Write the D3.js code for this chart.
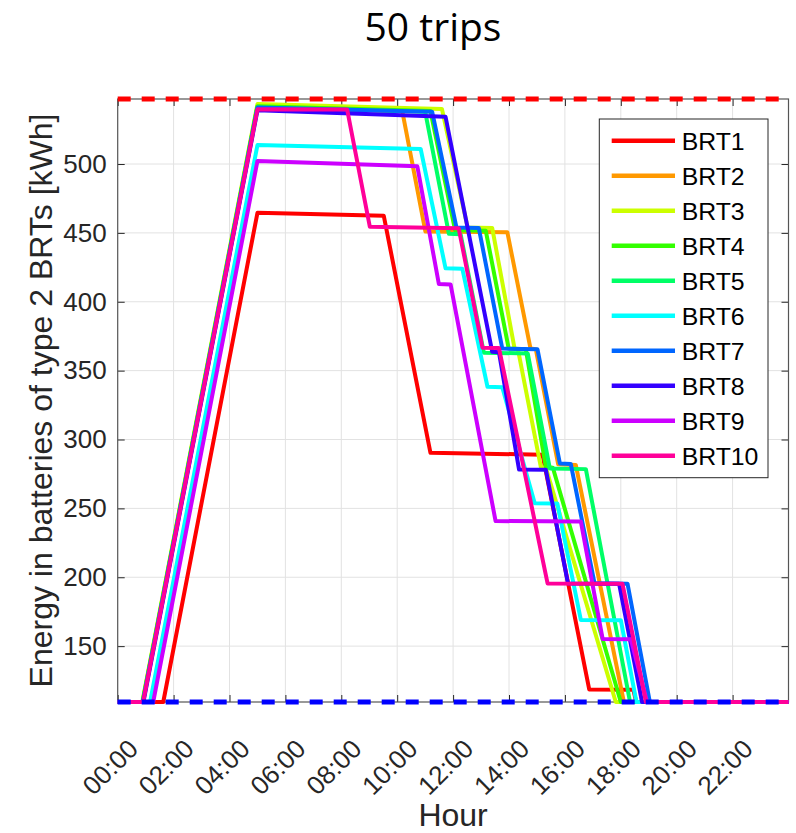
<!DOCTYPE html>
<html>
<head>
<meta charset="utf-8">
<script src="https://cdn.jsdelivr.net/npm/d3@7"></script>
<style>
  body { margin: 0; background: #ffffff; }
  svg { display: block; font-family: "Liberation Sans", Arial, sans-serif; }
</style>
</head>
<body>
<svg id="chart" width="796" height="833"></svg>
<script>
// ---------------- data ----------------
const titleText = "50 trips";
const seriesNames = ["BRT1","BRT2","BRT3","BRT4","BRT5","BRT6","BRT7","BRT8","BRT9","BRT10"];
const seriesColors = ["#ff0000","#ff9900","#ccff00","#33ff00","#00ff66","#00ffff","#0066ff","#3300ff","#cc00ff","#ff0099"];

const energyMin = 109.44;   // 20% of capacity (blue dashed)
const energyMax = 547.2;    // capacity (red dashed)

const BRT1_hours  = [0, 1.63, 5.0, 9.52, 11.19, 15.2, 16.87, 18.45, 18.55, 24];
const BRT1_kWh    = [109.44, 109.44, 464.6, 462.4, 290.3, 289.0, 118.6, 118.4, 109.44, 109.44];

const BRT2_hours  = [0, 0.89, 5.0, 10.18, 11.01, 13.94, 14.77, 14.96, 15.76, 16.39, 18.11, 24];
const BRT2_kWh    = [109.44, 109.44, 542.0, 538.5, 451.0, 450.5, 366.0, 365.5, 282.0, 281.5, 109.44, 109.44];

const BRT3_hours  = [0, 0.88, 5.0, 11.6, 12.52, 13.4, 14.2, 14.32, 15.14, 15.32, 17.82, 24];
const BRT3_kWh    = [109.44, 109.44, 543.5, 540.0, 454.0, 453.5, 366.0, 365.5, 280.0, 279.5, 109.44, 109.44];

const BRT4_hours  = [0, 0.89, 5.0, 11.19, 12.07, 13.17, 13.99, 14.6, 15.32, 15.57, 18.0, 24];
const BRT4_kWh    = [109.44, 109.44, 542.0, 538.5, 452.0, 451.5, 366.0, 365.5, 280.0, 279.5, 109.44, 109.44];

const BRT5_hours  = [0, 0.90, 5.0, 11.0, 11.85, 12.27, 13.1, 14.67, 15.46, 16.75, 18.33, 24];
const BRT5_kWh    = [109.44, 109.44, 541.0, 538.0, 449.3, 449.0, 363.0, 362.5, 279.0, 278.5, 109.44, 109.44];

const BRT6_hours  = [0, 1.16, 5.0, 10.84, 11.73, 12.33, 13.23, 13.76, 14.92, 15.73, 16.57, 18.0, 18.56, 24];
const BRT6_kWh    = [109.44, 109.44, 513.8, 510.9, 424.3, 424.0, 338.3, 338.0, 253.7, 253.5, 169.0, 168.8, 109.44, 109.44];

const BRT7_hours  = [0, 0.90, 5.0, 11.25, 12.12, 12.92, 13.76, 15.02, 15.82, 16.21, 17.06, 18.24, 19.04, 24];
const BRT7_kWh    = [109.44, 109.44, 541.0, 538.0, 454.0, 453.5, 366.0, 365.5, 282.6, 282.3, 195.6, 195.3, 109.44, 109.44];

const BRT8_hours  = [0, 0.92, 5.0, 11.73, 13.4, 13.64, 14.36, 15.32, 16.11, 17.94, 18.76, 24];
const BRT8_kWh    = [109.44, 109.44, 539.0, 534.3, 363.7, 363.4, 278.2, 278.0, 195.5, 195.2, 109.44, 109.44];

const BRT9_hours  = [0, 1.27, 5.0, 10.72, 11.49, 11.91, 13.52, 16.57, 17.35, 18.36, 18.94, 24];
const BRT9_kWh    = [109.44, 109.44, 502.2, 498.3, 412.9, 412.6, 240.8, 240.5, 155.2, 155.0, 109.44, 109.44];

const BRT10_hours = [0, 0.91, 5.0, 8.21, 9.02, 12.2, 13.05, 13.64, 15.38, 18.06, 18.9, 24];
const BRT10_kWh   = [109.44, 109.44, 539.7, 539.5, 454.5, 453.3, 366.7, 366.5, 195.5, 195.3, 109.44, 109.44];

const xTickHours  = [0, 2, 4, 6, 8, 10, 12, 14, 16, 18, 20, 22];
const xTickLabels = ["00:00","02:00","04:00","06:00","08:00","10:00","12:00","14:00","16:00","18:00","20:00","22:00"];
const yTickValues = [150, 200, 250, 300, 350, 400, 450, 500];
const xAxisTitle = "Hour";
const yAxisTitle = "Energy in batteries of type 2 BRTs [kWh]";

// ---------------- layout ----------------
const L = 117.7, R = 788.5, T = 99, B = 702;
const axisColor = "#262626";

const svg = d3.select("#chart");
const x = d3.scaleLinear().domain([0, 24]).range([L, R]);
const y = d3.scaleLinear().domain([energyMin, energyMax]).range([B, T]);

const hoursList = [BRT1_hours,BRT2_hours,BRT3_hours,BRT4_hours,BRT5_hours,BRT6_hours,BRT7_hours,BRT8_hours,BRT9_hours,BRT10_hours];
const kWhList   = [BRT1_kWh,BRT2_kWh,BRT3_kWh,BRT4_kWh,BRT5_kWh,BRT6_kWh,BRT7_kWh,BRT8_kWh,BRT9_kWh,BRT10_kWh];
const series = seriesNames.map((name, i) => ({ name, color: seriesColors[i], pts: d3.zip(hoursList[i], kWhList[i]) }));

// title
svg.append("text")
  .attr("x", 433).attr("y", 41)
  .attr("text-anchor", "middle")
  .style("font-family", "'Open Sans', 'Noto Sans', sans-serif")
  .style("font-size", "39px")
  .attr("fill", "#000")
  .text(titleText);

// background
svg.append("rect").attr("x", L).attr("y", T).attr("width", R - L).attr("height", B - T).attr("fill", "#fff");

// grid
const grid = svg.append("g").attr("stroke", "#e2e2e2").attr("stroke-width", 1);
grid.selectAll("line.gx").data(xTickHours.filter(d => d > 0)).join("line")
  .attr("x1", d => x(d)).attr("x2", d => x(d)).attr("y1", T).attr("y2", B);
grid.selectAll("line.gy").data(yTickValues).join("line")
  .attr("x1", L).attr("x2", R).attr("y1", d => y(d)).attr("y2", d => y(d));

// axes
const tickLen = 7;
const fmtX = (d) => xTickLabels[xTickHours.indexOf(d)];

const gx = svg.append("g").attr("transform", `translate(0,${B})`)
  .call(d3.axisBottom(x).tickValues(xTickHours).tickSize(-tickLen).tickFormat(fmtX));
gx.selectAll("text")
  .attr("x", 0).attr("y", 0).attr("dy", "0.35em")
  .attr("text-anchor", "end")
  .attr("transform", "translate(15,42) rotate(-45)");

const gxTop = svg.append("g").attr("transform", `translate(0,${T})`)
  .call(d3.axisTop(x).tickValues(xTickHours).tickSize(-tickLen).tickFormat(""));

const gy = svg.append("g").attr("transform", `translate(${L},0)`)
  .call(d3.axisLeft(y).tickValues(yTickValues).tickSize(-tickLen).tickPadding(11));

const gyRight = svg.append("g").attr("transform", `translate(${R},0)`)
  .call(d3.axisRight(y).tickValues(yTickValues).tickSize(-tickLen).tickFormat(""));

[gx, gxTop, gy, gyRight].forEach(g => {
  g.select(".domain").remove();
  g.selectAll(".tick line").attr("stroke", axisColor).attr("stroke-width", 1);
  g.selectAll("text").attr("fill", axisColor)
    .style("font-family", "'Liberation Sans', Arial, sans-serif")
    .style("font-size", "26px");
});

// frame
svg.append("rect").attr("x", L).attr("y", T).attr("width", R - L).attr("height", B - T)
  .attr("fill", "none").attr("stroke", "#555").attr("stroke-width", 1.2);

// data lines
const line = d3.line().x(d => x(d[0])).y(d => y(d[1]));
svg.append("g").selectAll("path").data(series).join("path")
  .attr("d", d => line(d.pts))
  .attr("fill", "none")
  .attr("stroke", d => d.color)
  .attr("stroke-width", 4)
  .attr("stroke-linejoin", "round");

// limit lines
svg.append("line")
  .attr("x1", x(0)).attr("x2", x(24)).attr("y1", y(energyMax)).attr("y2", y(energyMax))
  .attr("stroke", "#ff0000").attr("stroke-width", 5).attr("stroke-dasharray", "13 11");
svg.append("line")
  .attr("x1", x(0)).attr("x2", x(24)).attr("y1", y(energyMin)).attr("y2", y(energyMin))
  .attr("stroke", "#0000ff").attr("stroke-width", 5).attr("stroke-dasharray", "13 11");

// axis titles
svg.append("text")
  .attr("x", (L + R) / 2).attr("y", 826)
  .attr("text-anchor", "middle")
  .style("font-size", "32px").attr("fill", axisColor)
  .text(xAxisTitle);
svg.append("text")
  .attr("transform", `translate(52,${(T + B) / 2}) rotate(-90)`)
  .attr("text-anchor", "middle")
  .style("font-size", "32px").attr("fill", axisColor)
  .text(yAxisTitle);

// legend
const lg = svg.append("g");
const lgX = 599.3, lgY = 119, lgW = 168.7, lgH = 358.7, rowY0 = 140.7, rowStep = 35;
lg.append("rect").attr("x", lgX).attr("y", lgY).attr("width", lgW).attr("height", lgH)
  .attr("fill", "#fff").attr("stroke", "#262626").attr("stroke-width", 1);
const items = lg.selectAll("g.item").data(series).join("g")
  .attr("transform", (d, i) => `translate(0,${rowY0 + i * rowStep})`);
items.append("line")
  .attr("x1", 611.7).attr("x2", 675).attr("y1", 0).attr("y2", 0)
  .attr("stroke", d => d.color).attr("stroke-width", 4.6);
items.append("text")
  .attr("x", 681.7).attr("y", 0).attr("dy", "0.36em")
  .style("font-size", "24.8px").attr("fill", "#000")
  .text(d => d.name);
</script>
</body>
</html>
